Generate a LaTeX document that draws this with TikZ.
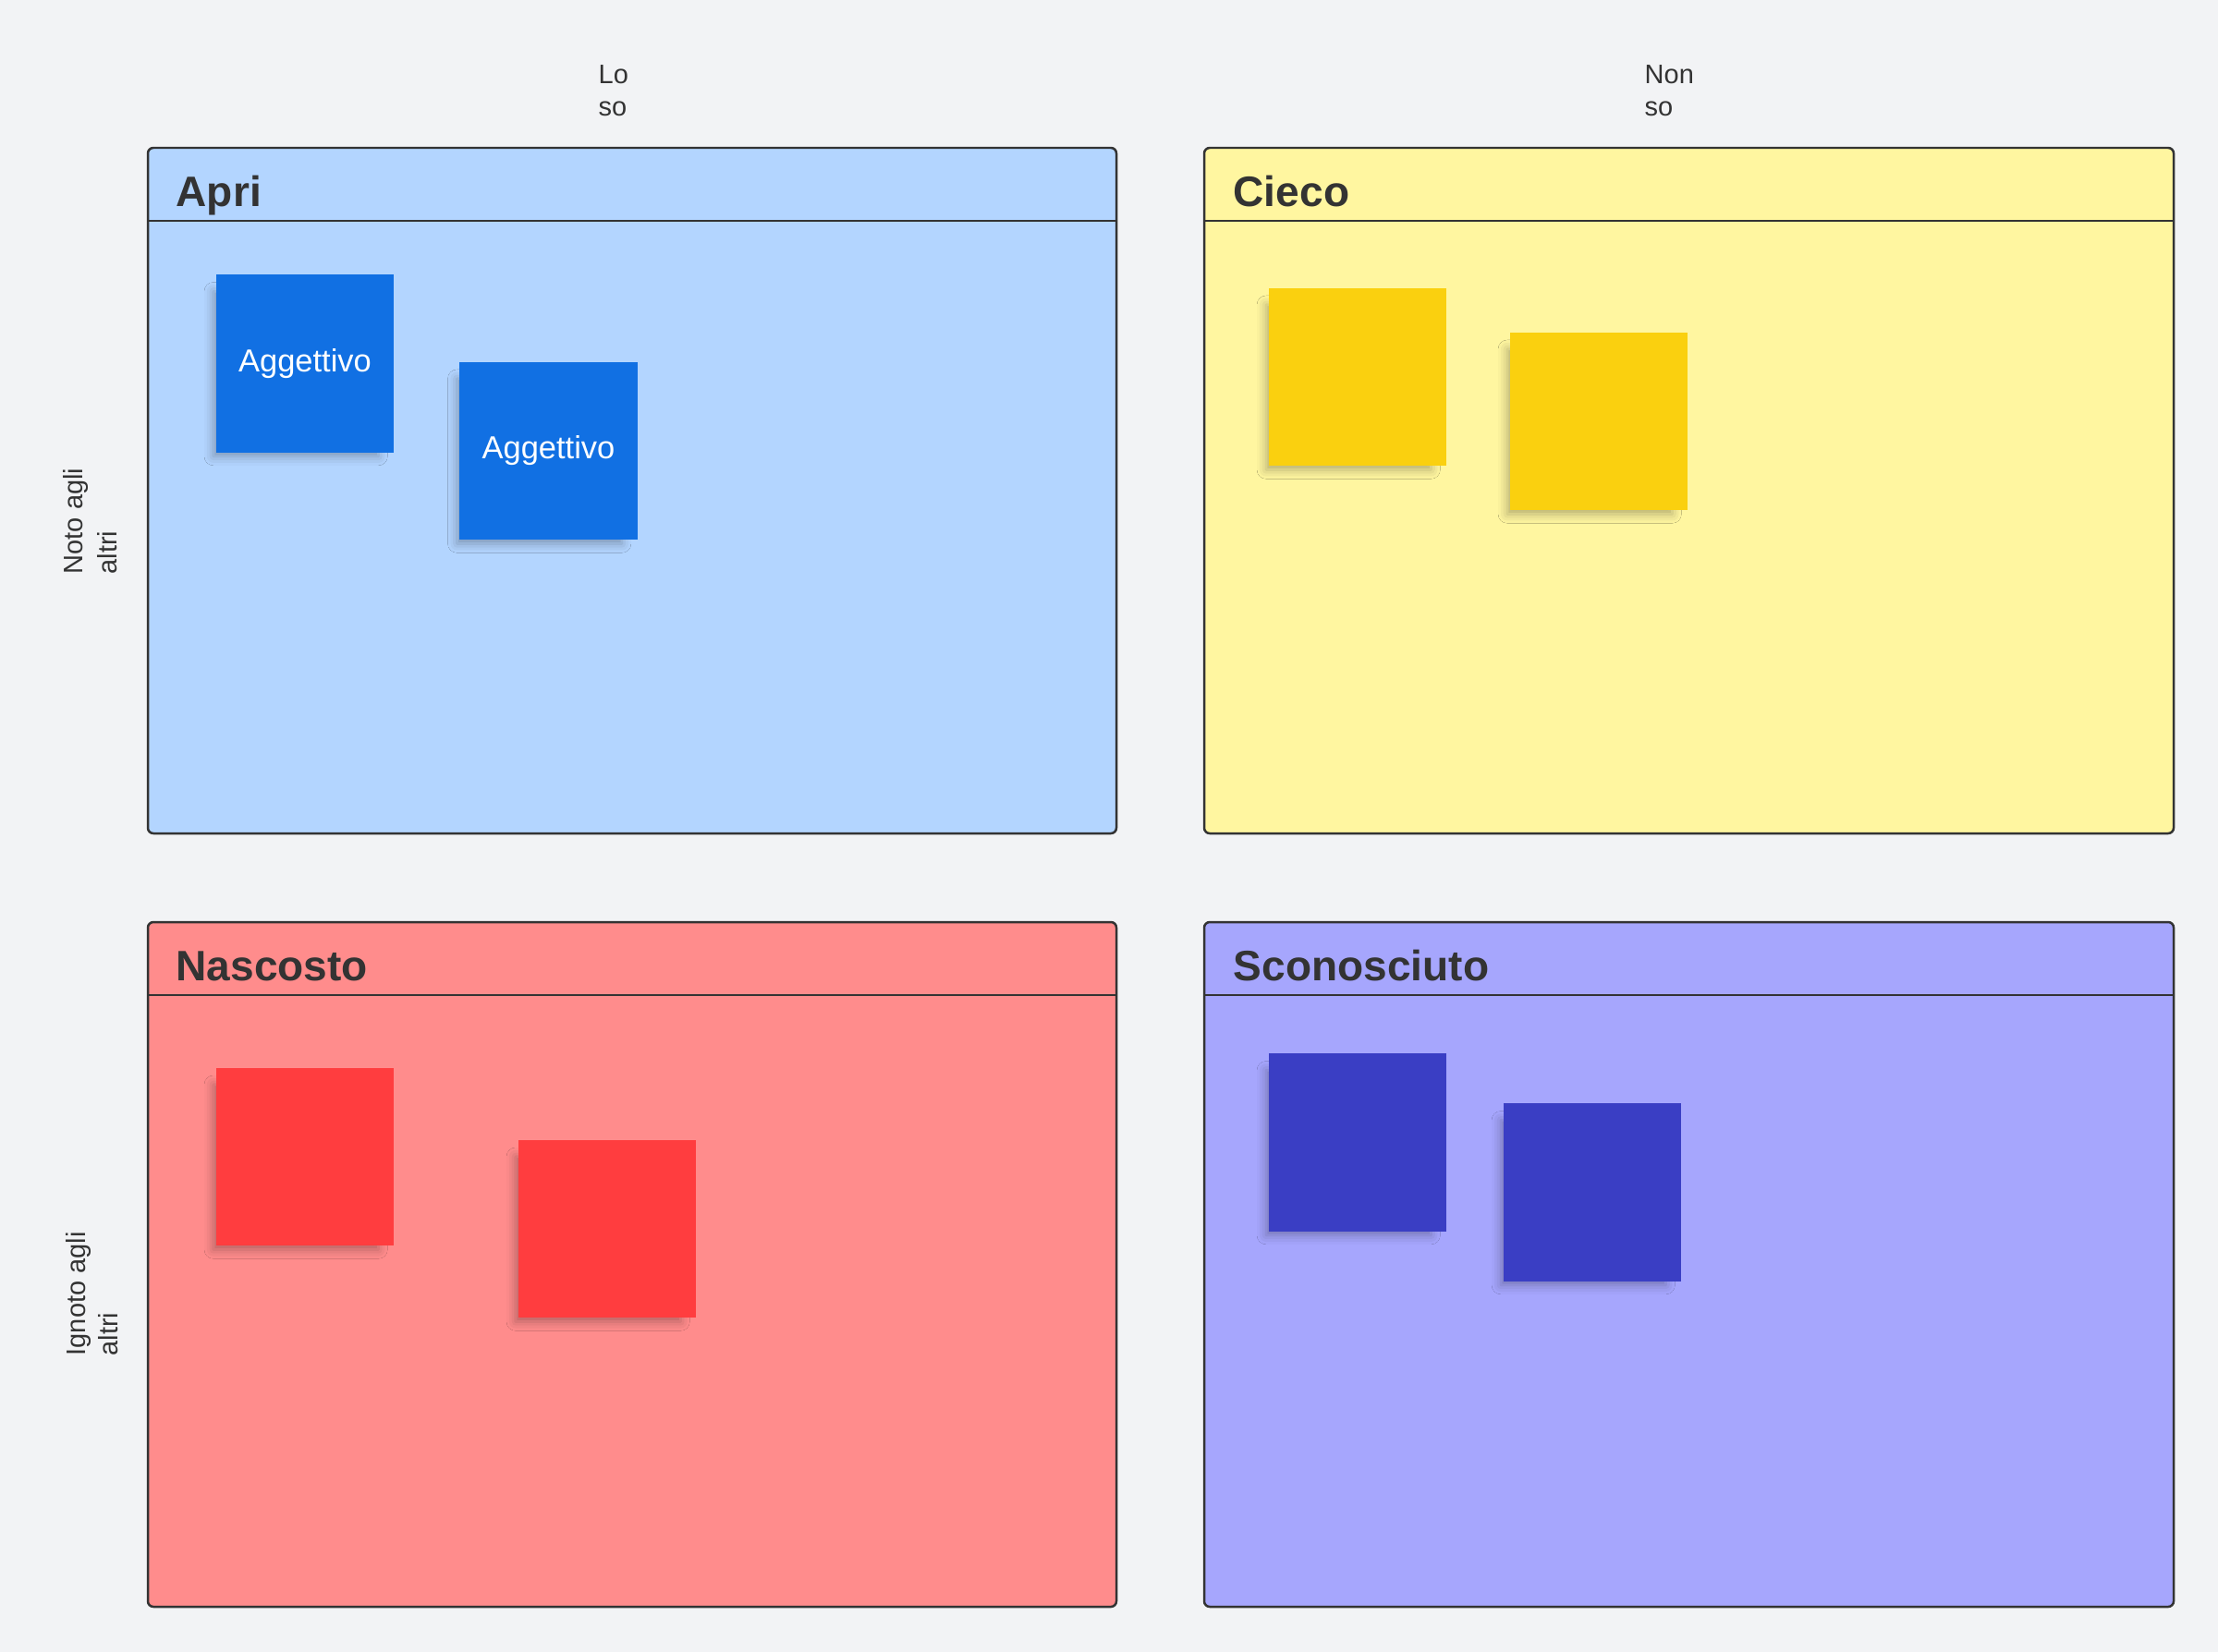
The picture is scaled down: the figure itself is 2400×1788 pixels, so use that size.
\documentclass[tikz,border=0pt]{standalone}
\usepackage{fontspec}
\setmainfont{Liberation Sans}
\usetikzlibrary{shadows.blur}
\definecolor{bgc}{HTML}{F2F3F5}
\definecolor{linec}{HTML}{333333}
\definecolor{blueq}{HTML}{B3D5FF}
\definecolor{bluen}{HTML}{1170E3}
\definecolor{yellowq}{HTML}{FFF6A0}
\definecolor{yellown}{HTML}{FAD00F}
\definecolor{redq}{HTML}{FF8C8C}
\definecolor{redn}{HTML}{FF3D3F}
\definecolor{purpq}{HTML}{A6A6FD}
\definecolor{purpn}{HTML}{3A3EC4}
\tikzset{
  quad/.style={draw=linec, line width=0.71pt, rounded corners=1.7pt},
  headline/.style={draw=linec, line width=0.57pt},
  qtitle/.style={anchor=base west, inner sep=0pt, text=linec, font=\bfseries\fontsize{13.1}{15}\selectfont},
  sticky/.style={minimum width=1.92cm, minimum height=1.92cm, inner sep=0pt, text=white,
     font=\fontsize{9.8}{12}\selectfont,
     blur shadow={shadow xshift=-3pt, shadow yshift=-3.4pt, shadow blur radius=3pt, shadow opacity=30, shadow scale=0.93}},
  axlabel/.style={anchor=base west, inner sep=0pt, text=linec, font=\fontsize{8.25}{10}\selectfont}
}
\begin{document}
\begin{tikzpicture}[x=0.01cm, y=-0.01cm]
\useasboundingbox (0,0) rectangle (2400,1788);
\fill[bgc] (0,0) rectangle (2400,1788);

% quadrants
\path[quad, fill=blueq] (160,160) rectangle (1208,902);
\draw[headline] (160,239) -- (1208,239);
\path[quad, fill=yellowq] (1303,160) rectangle (2352,902);
\draw[headline] (1303,239) -- (2352,239);
\path[quad, fill=redq] (160,998) rectangle (1208,1739);
\draw[headline] (160,1077) -- (1208,1077);
\path[quad, fill=purpq] (1303,998) rectangle (2352,1739);
\draw[headline] (1303,1077) -- (2352,1077);

% titles
\node[qtitle] (tapri) at (190,223) {Apri};
\node[qtitle] (tcieco) at (1334,223) {Cieco};
\node[qtitle] (tnasc) at (190,1061) {Nascosto};
\node[qtitle] (tscon) at (1334,1061) {Sconosciuto};

% sticky notes
\node[sticky, fill=bluen] (a1) at (330,393.5) {Aggettivo};
\node[sticky, fill=bluen] (a2) at (593.5,488) {Aggettivo};
\node[sticky, fill=yellown] (c1) at (1469,408) {};
\node[sticky, fill=yellown] (c2) at (1730,456) {};
\node[sticky, fill=redn] (n1) at (330,1252) {};
\node[sticky, fill=redn] (n2) at (657,1330) {};
\node[sticky, fill=purpn] (s1) at (1469,1236.5) {};
\node[sticky, fill=purpn] (s2) at (1723,1290.5) {};

% axis labels
\node[axlabel] (lo1) at (647,91) {Lo};
\node[axlabel] (lo2) at (647,126) {so};
\node[axlabel] (non1) at (1779,91) {Non};
\node[axlabel] (non2) at (1779,126) {so};
\node[axlabel, rotate=90] (noto1) at (90,622) {Noto agli};
\node[axlabel, rotate=90] (noto2) at (126,622) {altri};
\node[axlabel, rotate=90] (ign1) at (92,1468) {Ignoto agli};
\node[axlabel, rotate=90] (ign2) at (127,1468) {altri};
\end{tikzpicture}
\end{document}
